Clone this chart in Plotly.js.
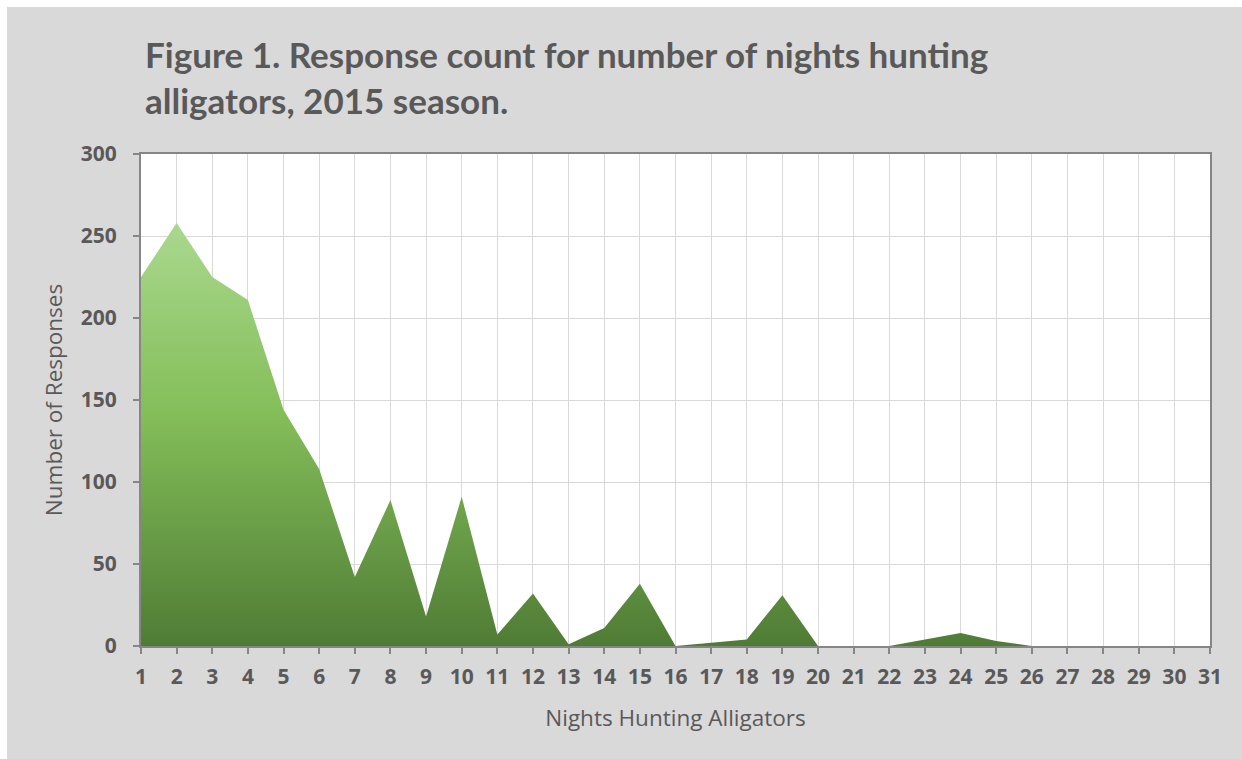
<!DOCTYPE html>
<html>
<head>
<meta charset="utf-8">
<script src="https://cdn.plot.ly/plotly-3.0.1.min.js"></script>
<style>
  html, body { margin: 0; padding: 0; background: #ffffff; }
  #chart { position: absolute; left: 7px; top: 7px; width: 1235px; height: 752px; }
</style>
</head>
<body>
<div id="chart"></div>
<script>
const nights = [1,2,3,4,5,6,7,8,9,10,11,12,13,14,15,16,17,18,19,20,21,22,23,24,25,26,27,28,29,30,31];
const responses = [225,258,225,211,144,108,42,89,18,91,7,32,1,11,38,0,2,4,31,0,0,0,4,8,3,0,0,0,0,0,0];
const xTickLabels = nights.map(String);
const yTickValues = [0,50,100,150,200,250,300];
const titleText = 'Figure 1. Response count for number of nights hunting<br>alligators, 2015 season.';

const trace = {
  x: nights,
  y: responses,
  type: 'scatter',
  mode: 'none',
  fill: 'tozeroy',
  fillgradient: {
    type: 'vertical',
    start: 0,
    stop: 258,
    colorscale: [[0,'#4f7c35'],[0.55,'#84be59'],[1,'#aad88e']]
  },
  hoverinfo: 'x+y'
};

const tickFont = {family: 'Open Sans, DejaVu Sans, sans-serif', size: 21, color: '#595959', weight: 700};
const axisTitleFont = {family: 'Open Sans, DejaVu Sans, sans-serif', size: 22.5, color: '#595959'};

const layout = {
  width: 1235,
  height: 752,
  paper_bgcolor: '#d9d9d9',
  plot_bgcolor: '#ffffff',
  margin: {l: 134, r: 32, t: 147, b: 113},
  showlegend: false,
  annotations: [{
    text: titleText,
    xref: 'paper', yref: 'paper',
    x: 0.002, xanchor: 'left',
    y: 1 + (147 - 24) / 492, yanchor: 'top',
    align: 'left',
    showarrow: false,
    font: {family: 'Lato, Open Sans, sans-serif', size: 35, color: '#595959', weight: 700}
  }],
  xaxis: {
    range: [1, 31],
    tickmode: 'array',
    tickvals: nights,
    ticktext: xTickLabels,
    showgrid: true,
    gridcolor: '#d9d9d9',
    gridwidth: 1,
    zeroline: false,
    showline: true,
    linecolor: '#868686',
    linewidth: 2,
    mirror: true,
    ticks: 'outside',
    ticklen: 6,
    tickwidth: 2,
    tickcolor: '#868686',
    ticklabelstandoff: 5,
    tickfont: tickFont,
    title: {text: 'Nights Hunting Alligators', font: axisTitleFont, standoff: 21}
  },
  yaxis: {
    range: [0, 300],
    tickmode: 'array',
    tickvals: yTickValues,
    ticktext: yTickValues.map(String),
    showgrid: true,
    gridcolor: '#d9d9d9',
    gridwidth: 1,
    zeroline: false,
    showline: true,
    linecolor: '#868686',
    linewidth: 2,
    mirror: true,
    ticks: 'outside',
    ticklen: 6,
    tickwidth: 2,
    tickcolor: '#868686',
    ticklabelstandoff: 12,
    tickfont: tickFont,
    title: {text: 'Number of Responses', font: axisTitleFont, standoff: 12}
  }
};

Plotly.newPlot('chart', [trace], layout, {displayModeBar: false, staticPlot: true});
</script>
</body>
</html>
